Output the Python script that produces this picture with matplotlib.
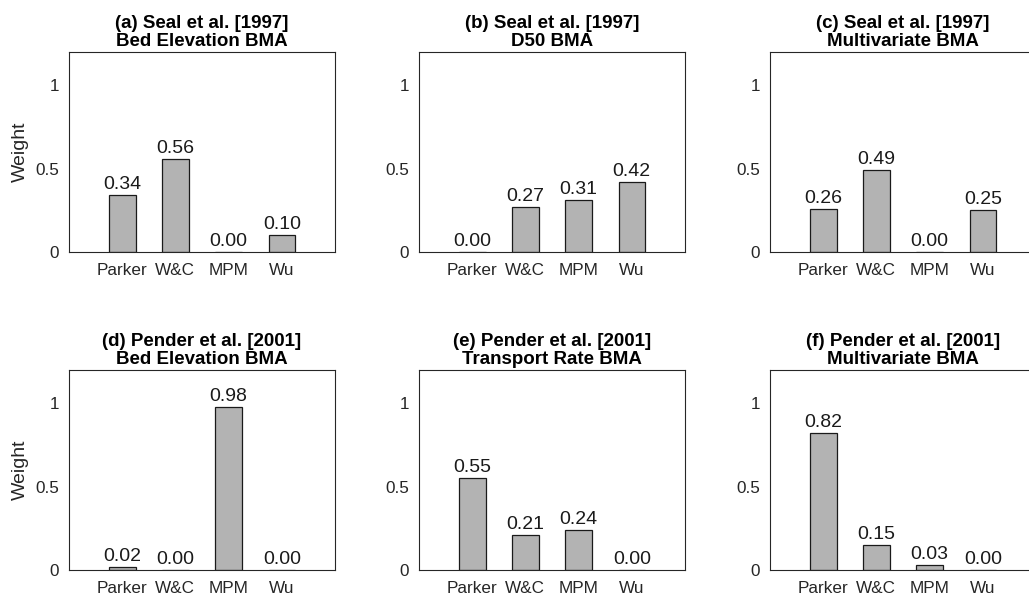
import numpy as np
import matplotlib.pyplot as plt

plt.rcParams['font.family'] = ['Liberation Sans', 'DejaVu Sans']

# Model names and BMA weights per panel
models = ['Parker', 'W&C', 'MPM', 'Wu']
titles = ['(a) Seal et al. [1997]\nBed Elevation BMA',
          '(b) Seal et al. [1997]\nD50 BMA',
          '(c) Seal et al. [1997]\nMultivariate BMA',
          '(d) Pender et al. [2001]\nBed Elevation BMA',
          '(e) Pender et al. [2001]\nTransport Rate BMA',
          '(f) Pender et al. [2001]\nMultivariate BMA']
w_a = [0.34, 0.56, 0.00, 0.10]
w_b = [0.00, 0.27, 0.31, 0.42]
w_c = [0.26, 0.49, 0.00, 0.25]
w_d = [0.02, 0.00, 0.98, 0.00]
w_e = [0.55, 0.21, 0.24, 0.00]
w_f = [0.82, 0.15, 0.03, 0.00]
weights = [w_a, w_b, w_c, w_d, w_e, w_f]

W, H = 1029, 602
fig = plt.figure(figsize=(W / 100, H / 100), dpi=100)

lefts = [69, 419, 770]
bottoms = [252, 570]   # pixel row of the zero line
aw, ah = 266, 200

x = np.arange(1, len(models) + 1)
for i, (t, w) in enumerate(zip(titles, weights)):
    r, c = divmod(i, 3)
    ax = fig.add_axes([lefts[c] / W, 1 - bottoms[r] / H, aw / W, ah / H])
    ax.bar(x, w, width=0.5, color='#b3b3b3', edgecolor='#1a1a1a', linewidth=0.9)
    for xi, v in zip(x, w):
        ax.text(xi, v + 0.012, f'{v:.2f}', ha='center', va='bottom',
                fontsize=14, color='#1a1a1a')
    ax.set_xlim(0, 5)
    ax.set_ylim(0, 1.2)
    ax.set_xticks(x)
    ax.set_xticklabels(models)
    ax.set_yticks([0, 0.5, 1])
    ax.set_yticklabels(['0', '0.5', '1'])
    ax.tick_params(length=0, labelsize=12.3, colors='#262626')
    ax.tick_params(axis='x', pad=8)
    ax.tick_params(axis='y', pad=7)
    for s in ax.spines.values():
        s.set_color('#262626')
        s.set_linewidth(0.8)
    ax.set_title(t, fontsize=13.5, fontweight='bold', linespacing=1.1, pad=4)
    if c == 0:
        ax.set_ylabel('Weight', fontsize=14, color='#262626', labelpad=5)

fig.savefig('out.png', dpi=100)
